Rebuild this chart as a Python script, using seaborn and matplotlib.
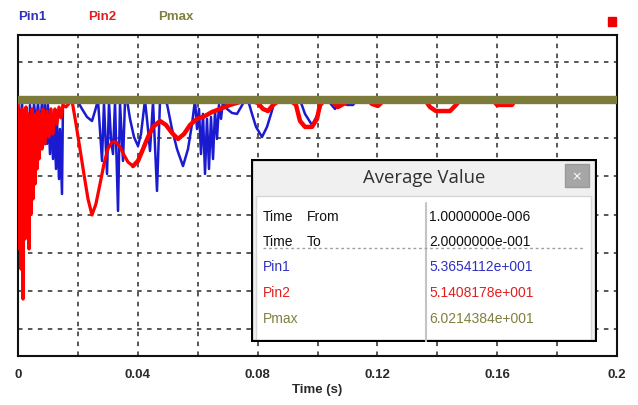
import matplotlib
matplotlib.use("Agg")
import matplotlib.pyplot as plt
import matplotlib.patches as mpatches
import numpy as np
import pandas as pd
import seaborn as sns

# ---------------- data ----------------
pin1_t = [0, 0.00067, 0.00134, 0.0020, 0.00267, 0.00334, 0.0040, 0.00467, 0.00534, 0.0060,
          0.00668, 0.00735, 0.0080, 0.00868, 0.0090, 0.00968, 0.0100, 0.01068, 0.0110, 0.01169,
          0.0120, 0.01269, 0.0130, 0.01369, 0.01402, 0.01469, 0.01503,
          0.01569, 0.01736, 0.0197, 0.02137, 0.02304, 0.0247, 0.02571, 0.02671, 0.02805,
          0.02871, 0.02972, 0.03038, 0.03105, 0.03172, 0.03239, 0.03339, 0.03406, 0.03506,
          0.03573, 0.0364, 0.0374, 0.03873, 0.04007, 0.04107, 0.0424, 0.0434, 0.04407,
          0.04508, 0.04641, 0.04741, 0.04841, 0.04975, 0.05142, 0.05309, 0.05509, 0.05676,
          0.0581, 0.0591, 0.05977, 0.06043, 0.0611, 0.06177, 0.06244, 0.0631, 0.06377,
          0.06444, 0.06511, 0.06578, 0.06644, 0.06711, 0.06778, 0.06845, 0.06978, 0.07145,
          0.07312, 0.07446, 0.07579, 0.07679, 0.07813, 0.07947, 0.08147, 0.08314, 0.08447,
          0.08581, 0.09416, 0.09583, 0.09816, 0.10017, 0.10184, 0.10417, 0.10584, 0.10751,
          0.10985, 0.11185, 0.11319, 0.12922, 0.12988, 0.13089, 0.2]
pin1_v = [60, 44.8, 58.95, 34.3, 56.3, 26.5, 57.4, 34.3, 58.4, 47.4,
          58.4, 44.8, 58.95, 39.6, 58.4, 37.0, 57.4, 31.7, 55.3, 29.1,
          52.7, 23.9, 50.1, 18.6, 44.8, 10.8, 60,
          58.95, 60, 60, 55.3, 51.1, 49.0, 54.2, 60, 28.1,
          58.4, 21.3, 58.95, 39.6, 31.7, 58.95, 1.9, 58.4, 28.1,
          59.5, 60, 50.1, 40.6, 35.9, 42.2, 60, 44.8, 33.3,
          58.95, 12.4, 59.5, 60, 57.9, 44.8, 34.3, 25.4, 34.3,
          47.4, 60, 44.8, 55.3, 31.7, 52.7, 21.3, 50.1, 23.9,
          51.1, 29.1, 54.2, 39.6, 57.4, 50.1, 59.5, 55.3, 53.2,
          52.7, 56.3, 60, 60, 52.7, 45.9, 40.6, 45.9, 52.7,
          60, 60, 52.7, 46.9, 52.7, 60, 58.4, 55.3, 58.95,
          57.4, 57.4, 60, 60, 58.95, 60, 60]

pin2_t = [0, 0.00033, 0.00067, 0.0010, 0.00134, 0.00167, 0.0020, 0.00234, 0.00267, 0.0030,
          0.00334, 0.00367, 0.0040, 0.00434, 0.00467, 0.0050, 0.00534, 0.00568, 0.0060, 0.00634,
          0.00668, 0.0070, 0.00735, 0.0080, 0.00835, 0.0090, 0.00968, 0.01035, 0.0110, 0.01169,
          0.01235, 0.0130, 0.01369, 0.01436, 0.0150, 0.0160,
          0.0180, 0.01937, 0.0207, 0.0220, 0.02337, 0.0247, 0.0260, 0.02738, 0.0287, 0.0300,
          0.03139, 0.0327, 0.03406, 0.0354, 0.03673, 0.0384, 0.04007, 0.04174, 0.0434, 0.04508,
          0.04741, 0.04942, 0.05142, 0.05342, 0.05543, 0.05743, 0.05977, 0.06244, 0.06477,
          0.06745, 0.07078, 0.07412, 0.07746, 0.08013, 0.0818, 0.08347, 0.08514, 0.08748,
          0.09082, 0.09282, 0.09416, 0.09583, 0.09816, 0.09983, 0.10083, 0.1025, 0.10518,
          0.10684, 0.10918, 0.11085, 0.11686, 0.1182, 0.1202, 0.12187, 0.1242, 0.1359,
          0.13756, 0.13957, 0.14424, 0.14624, 0.14758, 0.1586, 0.15993, 0.16494, 0.16594, 0.2]
pin2_v = [60, -18.0, 50.1, -28.5, 55.3, -44.2, 44.8, -12.8, 56.3, -10.2,
          52.7, -18.0, 47.4, 0.3, 55.3, 8.2, 50.1, 16.0, 52.7, 23.9,
          54.2, 29.1, 52.7, 34.3, 55.3, 37.0, 54.2, 40.6, 55.3, 42.2,
          55.3, 47.4, 56.3, 50.6, 57.4, 56.3,
          60, 47.4, 34.3, 21.3, 8.2, -0.2, 5.5, 16.0, 26.5, 34.3,
          38.0, 38.0, 35.4, 31.2, 27.5, 25.4, 28.1, 34.3, 40.6, 45.9,
          49.0, 46.9, 42.7, 39.6, 42.2, 46.9, 50.1, 51.6, 53.7,
          55.3, 57.4, 58.95, 60, 58.4, 55.3, 54.2, 57.4, 60,
          60, 57.4, 49.0, 45.9, 45.9, 50.1, 57.4, 60, 58.95,
          56.3, 58.4, 60, 60, 57.9, 56.9, 59.5, 60, 60,
          56.3, 54.2, 54.2, 57.4, 60, 60, 57.4, 57.4, 60, 60]

pmax_t = [0, 0.2]
pmax_v = [60.2, 60.2]

series_names = ["Pin1", "Pin2", "Pmax"]
series_colors = ["#1a1ad0", "#ff0000", "#7d7b3c"]
label_colors = ["#3030c0", "#e02020", "#80803f"]

x_grid = [0, 0.02, 0.04, 0.06, 0.08, 0.10, 0.12, 0.14, 0.16, 0.18, 0.2]
x_labels = ["0", "", "0.04", "", "0.08", "", "0.12", "", "0.16", "", "0.2"]
y_grid = [-60, -40, -20, 0, 20, 40, 60, 80]

avg_rows = [("Time", "From", "1.0000000e-006"),
            ("Time", "To", "2.0000000e-001"),
            ("Pin1", "", "5.3654112e+001"),
            ("Pin2", "", "5.1408178e+001"),
            ("Pmax", "", "6.0214384e+001")]
avg_colors = ["#111111", "#111111", "#3030c0", "#e02020", "#80803f"]

# ---------------- figure ----------------
sns.set_style("white")
plt.rcParams["font.family"] = ["Liberation Sans", "DejaVu Sans"]

W, H = 638, 406
fig = plt.figure(figsize=(W / 100, H / 100), dpi=100)
ax = fig.add_axes([18 / W, (H - 357) / H, 599 / W, 321 / H])

df1 = pd.DataFrame({"t": pin1_t, "v": pin1_v})
df2 = pd.DataFrame({"t": pin2_t, "v": pin2_v})
df3 = pd.DataFrame({"t": pmax_t, "v": pmax_v})
sns.lineplot(data=df1, x="t", y="v", ax=ax, color=series_colors[0], lw=1.8,
             estimator=None, sort=False, zorder=3)
sns.lineplot(data=df2[df2.t <= 0.0384], x="t", y="v", ax=ax, color=series_colors[1],
             lw=2.3, estimator=None, sort=False, zorder=4)
sns.lineplot(data=df2[df2.t >= 0.0384], x="t", y="v", ax=ax, color=series_colors[1],
             lw=3.2, estimator=None, sort=False, zorder=4)
sns.lineplot(data=df3, x="t", y="v", ax=ax, color=series_colors[2], lw=6,
             estimator=None, sort=False, zorder=5, solid_capstyle="butt")

ax.set_xlim(0, 0.2)
ax.set_ylim(-74, 94)
ax.set_xticks(x_grid)
ax.set_xticklabels(x_labels)
ax.set_yticks(y_grid)
ax.set_yticklabels([])
ax.tick_params(axis="both", length=0)
ax.tick_params(axis="x", pad=9, labelsize=9.5, labelcolor="#2a2a2a")
for lab in ax.get_xticklabels():
    lab.set_fontweight("bold")
ax.grid(True, color="#4a4a4a", linestyle=(0, (2.5, 3)), lw=1.3, zorder=1)
ax.set_xlabel("")
ax.set_ylabel("")
for s in ax.spines.values():
    s.set_visible(True)
    s.set_color("#111111")
    s.set_linewidth(1.5)

fig.text(317 / W, 1 - 390 / H, "Time (s)", ha="center", va="center",
         fontsize=9.5, fontweight="bold", color="#2a2a2a")

# legend labels on top
for name, col, x in zip(series_names, label_colors, [18, 88, 158]):
    fig.text(x / W, 1 - 17 / H, name, ha="left", va="center", fontsize=9.5,
             fontweight="bold", color=col)
fig.patches.append(mpatches.Rectangle((608 / W, 1 - 27 / H), 8 / W, 9 / H,
                                      transform=fig.transFigure, color="#ee0000"))

# ---------------- Average Value dialog ----------------
bx0, by0, bw, bh = 251, 160, 346, 183
dax = fig.add_axes([bx0 / W, (H - by0 - bh) / H, bw / W, bh / H], zorder=10)
dax.set_xlim(0, bw)
dax.set_ylim(bh, 0)
dax.axis("off")
dax.add_patch(mpatches.Rectangle((0, 0), bw, bh, facecolor="#f0f0f0", edgecolor="none"))
dax.add_patch(mpatches.Rectangle((5, 37), 335, bh - 37, facecolor="white",
                                 edgecolor="#d6d6d6", lw=1))
dax.add_patch(mpatches.Rectangle((314, 5), 24, 23, facecolor="#a6a6a6", edgecolor="#9a9a9a"))
dax.text(326, 16.5, "×", ha="center", va="center", color="white", fontsize=9,
         family="DejaVu Sans")
dax.text(173, 18, "Average Value", ha="center", va="center", fontsize=13.3,
         color="#303030", family="Open Sans")
dax.plot([175, 175], [44, bh], color="#c4c4c4", lw=1.5)
dax.plot([12, 334], [89, 89], color="#a0a0a0", lw=1, linestyle=(0, (2, 2)))
row_y = [57, 82, 107, 133, 159]
for (a, b, val), col, yy in zip(avg_rows, avg_colors, row_y):
    dax.text(12, yy, a, ha="left", va="center", fontsize=10, color=col)
    if b:
        dax.text(56, yy, b, ha="left", va="center", fontsize=10, color=col)
    dax.text(178, yy, val, ha="left", va="center", fontsize=10, color=col)
dax.add_patch(mpatches.Rectangle((1, 1), bw - 2, bh - 2, facecolor="none",
                                 edgecolor="#000000", lw=1.6))

fig.savefig("out.png", dpi=100)
